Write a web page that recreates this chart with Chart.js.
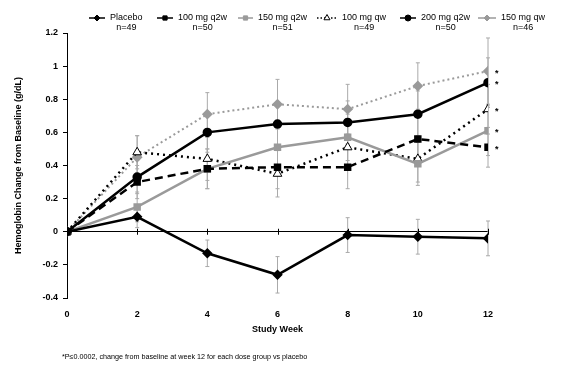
<!DOCTYPE html>
<html lang="en">
    <head>
        <meta charset="UTF-8" />
        <title>Hemoglobin Change from Baseline</title>
        <script src="https://cdn.jsdelivr.net/npm/chart.js"></script>
        <style>
            html, body { margin: 0; padding: 0; background: #fff; }
            #wrap { width: 575px; height: 389px; position: relative; }
        </style>
    </head>
    <body>
        <div id="wrap"><canvas id="myChart"></canvas></div>

        <script>
            const weeks = [0, 2, 4, 6, 8, 10, 12];
            const seriesNames = ["Placebo", "100 mg q2w", "150 mg q2w", "100 mg qw", "200 mg q2w", "150 mg qw"];
            const seriesN = ["n=49", "n=50", "n=51", "n=49", "n=50", "n=46"];

            const placebo = [0, 0.09, -0.13, -0.26, -0.02, -0.03, -0.04];
            const mg100q2w = [0, 0.30, 0.38, 0.39, 0.39, 0.56, 0.51];
            const mg150q2w = [0, 0.15, 0.38, 0.51, 0.57, 0.41, 0.61];
            const mg100qw = [0, 0.48, 0.44, 0.35, 0.51, 0.44, 0.74];
            const mg200q2w = [0, 0.33, 0.60, 0.65, 0.66, 0.71, 0.90];
            const mg150qw = [0, 0.45, 0.71, 0.77, 0.74, 0.88, 0.97];

            // standard errors
            const errPlacebo = [0, 0.065, 0.08, 0.11, 0.105, 0.105, 0.105];
            const err100q2w = [0, 0.10, 0.12, 0.13, 0.13, 0.14, 0.12];
            const err150q2w = [0, 0.09, 0.12, 0.14, 0.14, 0.13, 0.15];
            const err100qw = [0, 0.10, 0.13, 0.14, 0.14, 0.14, 0.15];
            const err200q2w = [0, 0.10, 0.12, 0.13, 0.13, 0.14, 0.15];
            const err150qw = [0, 0.13, 0.13, 0.15, 0.15, 0.14, 0.20];

            const yTicks = [-0.4, -0.2, 0, 0.2, 0.4, 0.6, 0.8, 1, 1.2];
            const footnote = "*P\u22640.0002, change from baseline at week 12 for each dose group vs placebo";

            const GRAY = "#9a9a9a";
            const toXY = (arr) => arr.map((v, i) => ({ x: weeks[i], y: v }));

            const datasets = [
                { label: seriesNames[0], data: toXY(placebo), err: errPlacebo, borderColor: "#000", backgroundColor: "#000", borderWidth: 2.5, pointStyle: "rectRot", pointRadius: 3.5, star: false },
                { label: seriesNames[1], data: toXY(mg100q2w), err: err100q2w, borderColor: "#000", backgroundColor: "#000", borderWidth: 2.5, borderDash: [8, 5], pointStyle: "rect", pointRadius: 3.5, star: true },
                { label: seriesNames[2], data: toXY(mg150q2w), err: err150q2w, borderColor: GRAY, backgroundColor: GRAY, borderWidth: 2.5, pointStyle: "rect", pointRadius: 3.5, star: true },
                { label: seriesNames[3], data: toXY(mg100qw), err: err100qw, borderColor: "#000", backgroundColor: "#fff", pointBorderColor: "#000", pointBorderWidth: 1, borderWidth: 2.5, borderDash: [2, 4], pointStyle: "triangle", pointRadius: 5, star: true },
                { label: seriesNames[4], data: toXY(mg200q2w), err: err200q2w, borderColor: "#000", backgroundColor: "#000", borderWidth: 2.5, pointStyle: "circle", pointRadius: 3.5, star: true },
                { label: seriesNames[5], data: toXY(mg150qw), err: err150qw, borderColor: GRAY, backgroundColor: GRAY, borderWidth: 2, borderDash: [2, 3], pointStyle: "rectRot", pointRadius: 4, star: true },
            ];
            datasets.forEach((d) => { d.tension = 0; d.pointHoverRadius = d.pointRadius; });

            // error bars, drawn under the lines
            const errorBars = {
                id: "errorBars",
                beforeDatasetsDraw(chart) {
                    const { ctx, scales: { x, y } } = chart;
                    ctx.save();
                    ctx.strokeStyle = "#aaa";
                    ctx.lineWidth = 1;
                    chart.data.datasets.forEach((ds) => {
                        ds.data.forEach((p, i) => {
                            const e = ds.err[i];
                            if (!e) return;
                            const px = x.getPixelForValue(p.x);
                            const y1 = y.getPixelForValue(p.y + e);
                            const y2 = y.getPixelForValue(p.y - e);
                            ctx.beginPath();
                            ctx.moveTo(px, y1); ctx.lineTo(px, y2);
                            ctx.moveTo(px - 2, y1); ctx.lineTo(px + 2, y1);
                            ctx.moveTo(px - 2, y2); ctx.lineTo(px + 2, y2);
                            ctx.stroke();
                        });
                    });
                    ctx.restore();
                },
            };

            // legend, asterisks, x ticks on the zero line, titles, footnote
            const extras = {
                id: "extras",
                afterDraw(chart) {
                    const { ctx, scales: { x, y } } = chart;
                    ctx.save();

                    // small x ticks on the zero line
                    const y0 = y.getPixelForValue(0);
                    ctx.strokeStyle = "#000";
                    ctx.lineWidth = 1;
                    weeks.forEach((w) => {
                        const px = Math.round(x.getPixelForValue(w)) + 0.5;
                        ctx.beginPath();
                        ctx.moveTo(px, y0 - 3); ctx.lineTo(px, y0 + 3);
                        ctx.stroke();
                    });

                    // asterisks at week 12
                    ctx.fillStyle = "#000";
                    ctx.font = "bold 9px 'Liberation Sans', Arial, sans-serif";
                    ctx.textAlign = "left";
                    ctx.textBaseline = "middle";
                    chart.data.datasets.forEach((ds) => {
                        if (!ds.star) return;
                        const last = ds.data[ds.data.length - 1];
                        ctx.fillText("*", x.getPixelForValue(last.x) + 7, y.getPixelForValue(last.y) + 2);
                    });

                    // legend
                    const sampleX = [89, 157, 238, 317, 400, 478];
                    const sampleW = [16, 16, 15, 20, 16, 18];
                    ctx.font = "9px 'Liberation Sans', Arial, sans-serif";
                    chart.data.datasets.forEach((ds, i) => {
                        const sx = sampleX[i], sw = sampleW[i], sy = 18;
                        ctx.strokeStyle = ds.borderColor;
                        ctx.lineWidth = 1.5;
                        ctx.setLineDash(ds.pointStyle === "triangle" ? [1.5, 2] : []);
                        ctx.beginPath();
                        ctx.moveTo(sx, sy); ctx.lineTo(sx + sw, sy);
                        ctx.stroke();
                        ctx.setLineDash([]);
                        ctx.fillStyle = ds.backgroundColor;
                        ctx.strokeStyle = ds.pointBorderColor || ds.borderColor;
                        ctx.lineWidth = 1;
                        Chart.helpers.drawPoint(ctx, {
                            pointStyle: ds.pointStyle,
                            radius: ds.pointStyle === "triangle" ? 3.5 : 3,
                            rotation: 0,
                            borderWidth: 1,
                        }, sx + sw / 2, sy);
                        ctx.fillStyle = "#000";
                        ctx.textAlign = "left";
                        ctx.fillText(seriesNames[i], sx + sw + 5, sy);
                        const tw = ctx.measureText(seriesNames[i]).width;
                        ctx.textAlign = "center";
                        ctx.fillText(seriesN[i], sx + sw + 5 + tw / 2, sy + 10);
                    });

                    // axis titles
                    ctx.fillStyle = "#000";
                    ctx.font = "bold 9px 'Liberation Sans', Arial, sans-serif";
                    ctx.textAlign = "center";
                    ctx.fillText("Study Week", (x.left + x.right) / 2, 330);
                    ctx.save();
                    ctx.translate(19, (y.top + y.bottom) / 2);
                    ctx.rotate(-Math.PI / 2);
                    ctx.fillText("Hemoglobin Change from Baseline (g/dL)", 0, 0);
                    ctx.restore();

                    // footnote
                    ctx.font = "7.2px 'Liberation Sans', Arial, sans-serif";
                    ctx.textAlign = "left";
                    ctx.fillText(footnote, 62, 357);

                    ctx.restore();
                },
            };

            const ctx = document.getElementById("myChart").getContext("2d");
            const myChart = new Chart(ctx, {
                type: "line",
                data: { datasets: datasets },
                options: {
                    responsive: true,
                    maintainAspectRatio: false,
                    animation: false,
                    layout: { padding: { left: 0, right: 87, top: 33, bottom: 0 } },
                    plugins: {
                        legend: { display: false },
                        tooltip: { enabled: false },
                    },
                    scales: {
                        x: {
                            type: "linear",
                            min: 0,
                            max: 12,
                            afterFit: (s) => { s.height = 91; },
                            grid: { display: false },
                            border: { display: false },
                            ticks: {
                                stepSize: 2,
                                padding: 3,
                                color: "#000",
                                font: { family: "'Liberation Sans', Arial, sans-serif", size: 9, weight: "bold" },
                            },
                        },
                        y: {
                            min: -0.4,
                            max: 1.2,
                            afterFit: (s) => { s.width = 67; },
                            afterBuildTicks: (s) => { s.ticks = yTicks.map((v) => ({ value: v })); },
                            border: { display: true, color: "#000", width: 1 },
                            grid: {
                                color: (c) => (c.tick && c.tick.value === 0 ? "#000" : "rgba(0,0,0,0)"),
                                tickColor: "#000",
                                tickLength: 4,
                                lineWidth: 1,
                            },
                            ticks: {
                                padding: 5,
                                color: "#000",
                                font: { family: "'Liberation Sans', Arial, sans-serif", size: 9, weight: "bold" },
                                callback: (v) => String(Math.round(v * 10) / 10),
                            },
                        },
                    },
                },
                plugins: [errorBars, extras],
            });
        </script>
    </body>
</html>
